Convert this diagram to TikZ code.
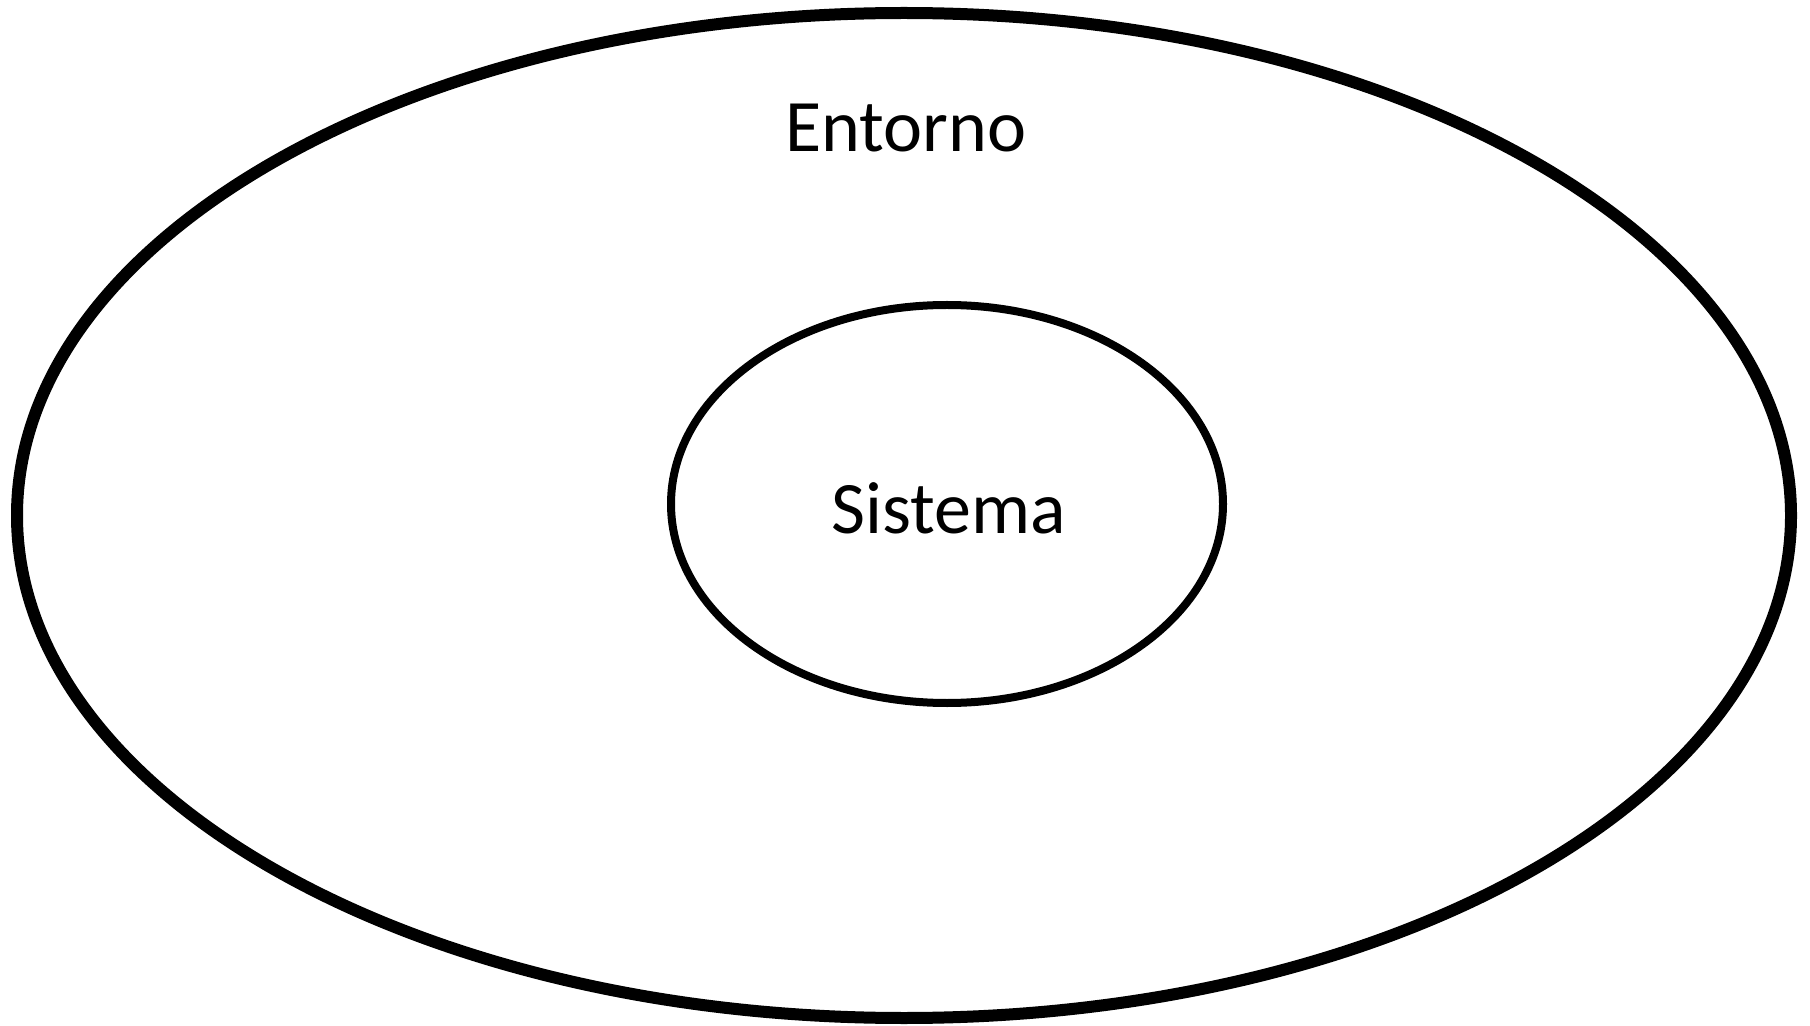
\documentclass[tikz,border=0pt]{standalone}
\usepackage{fontspec}
\setmainfont{Carlito}
\usepackage{tikz}
\usetikzlibrary{shapes,positioning}
\tikzstyle{region} = [ellipse, draw=black, inner sep=0pt, text centered]
\tikzstyle{label} = [font=\fontsize{37}{44}\selectfont, anchor=base, inner sep=0pt]

\begin{document}
\begin{tikzpicture}[x=0.5pt, y=-0.5pt]
\useasboundingbox (0,0) rectangle (1810,1026);
% Outer region and inner system
\node (entorno) [region, line width=6pt, minimum width=887pt, minimum height=502.5pt] at (904,515.5) {};
\node (sistema) [region, line width=4pt, minimum width=276pt, minimum height=199pt] at (947,504) {};

% Labels
\node (entornolabel) [label] at (906,152) {Entorno};
\node (sistemalabel) [label] at (949,533) {Sistema};
\end{tikzpicture}
\end{document}
